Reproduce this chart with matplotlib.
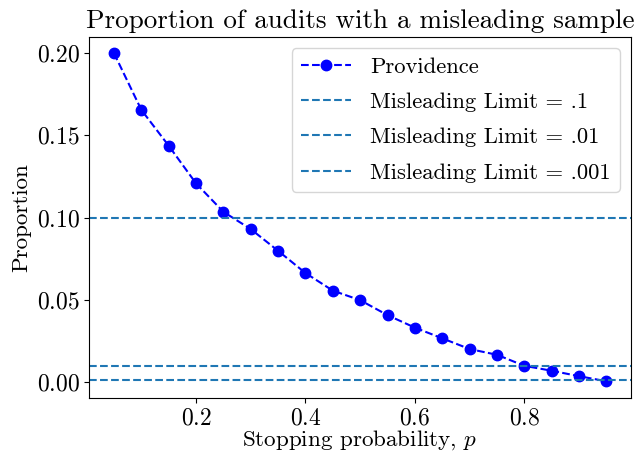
import numpy as np
import matplotlib
import matplotlib.pyplot as plt

matplotlib.use("Agg")

plt.rcParams["font.family"] = "cmr10"
plt.rcParams["mathtext.fontset"] = "cm"
plt.rcParams["axes.formatter.use_mathtext"] = True

# stopping probability and proportion of misleading samples
stop_p = [0.05, 0.10, 0.15, 0.20, 0.25, 0.30, 0.35, 0.40, 0.45, 0.50,
          0.55, 0.60, 0.65, 0.70, 0.75, 0.80, 0.85, 0.90, 0.95]
providence = [0.200, 0.1655, 0.1437, 0.1208, 0.1035, 0.093, 0.0798, 0.0663,
              0.0556, 0.0498, 0.0407, 0.0331, 0.0266, 0.0201, 0.0166, 0.0099,
              0.0069, 0.0036, 0.0005]
limits = [0.1, 0.01, 0.001]
limit_labels = ["Misleading Limit = .1", "Misleading Limit = .01",
                "Misleading Limit = .001"]

fig = plt.figure(figsize=(6.34, 4.58), dpi=100)
ax = fig.add_axes([0.1409, 0.1317, 0.9953 - 0.1409, 0.9199 - 0.1317])

ax.plot(stop_p, providence, "bo--", markersize=7.5, label="Providence")
for lim, lab in zip(limits, limit_labels):
    ax.axhline(lim, linestyle="--", color="tab:blue", label=lab)

ax.set_title("Proportion of audits with a misleading sample", fontsize=19.5)
ax.set_xlabel("Stopping probability, $p$", fontsize=16.6, labelpad=-1)
ax.set_ylabel("Proportion", fontsize=16.6)
ax.tick_params(labelsize=17)
ax.legend(loc="upper right", fontsize=16.3, labelspacing=0.68,
          handlelength=2.2, handletextpad=0.85)

fig.savefig("out.png", dpi=100)
plt.close()
